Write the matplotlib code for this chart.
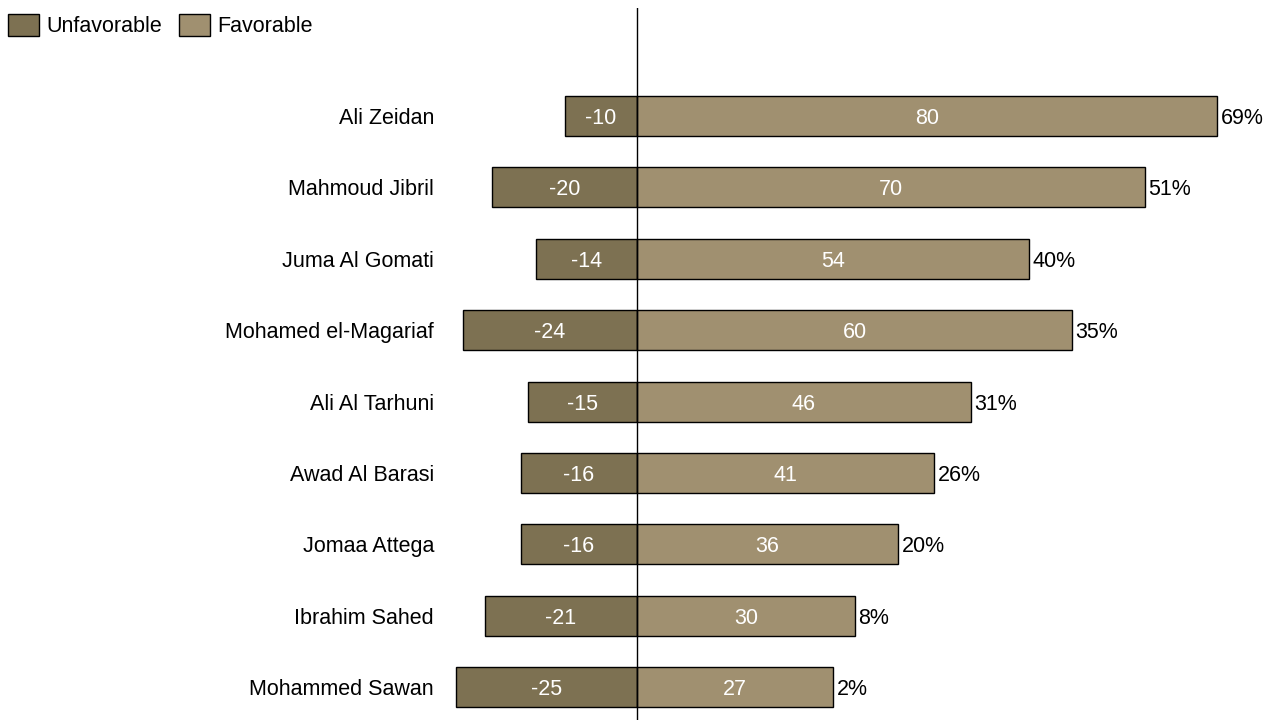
import numpy as np
import matplotlib.pyplot as plt
from matplotlib.patches import Patch

plt.rcParams['font.family'] = ['Liberation Sans', 'DejaVu Sans']

names = ['Ali Zeidan', 'Mahmoud Jibril', 'Juma Al Gomati', 'Mohamed el-Magariaf',
         'Ali Al Tarhuni', 'Awad Al Barasi', 'Jomaa Attega', 'Ibrahim Sahed',
         'Mohammed Sawan']
unfav = [-10, -20, -14, -24, -15, -16, -16, -21, -25]
fav = [80, 70, 54, 60, 46, 41, 36, 30, 27]
net = ['69%', '51%', '40%', '35%', '31%', '26%', '20%', '8%', '2%']

c_unfav = '#7d7152'
c_fav = '#a09070'
fs = 15.5

W, H = 1278, 720
fig = plt.figure(figsize=(W / 100, H / 100), dpi=100)
ax = fig.add_axes([441 / W, 0, (W - 441) / W, 712 / H])

y = np.arange(len(names))
bh = 0.56
ax.barh(y, unfav, height=bh, color=c_unfav, edgecolor='black', linewidth=1, zorder=2)
ax.barh(y, fav, height=bh, color=c_fav, edgecolor='black', linewidth=1, zorder=2)
ax.axvline(0, color='black', linewidth=1, zorder=3)

for i in range(len(names)):
    ax.text(unfav[i] / 2, y[i], str(unfav[i]), ha='center', va='center_baseline',
            color='white', fontsize=fs, zorder=4)
    ax.text(fav[i] / 2, y[i], str(fav[i]), ha='center', va='center_baseline',
            color='white', fontsize=fs, zorder=4)
    ax.text(fav[i] + 0.5, y[i], net[i], ha='left', va='center_baseline',
            color='black', fontsize=fs)

px = 7.25
ax.set_xlim((441 - 637) / px, (W - 637) / px)
ax.set_ylim((720 - 116) / 71.4, (8 - 116) / 71.4)
ax.set_yticks(y)
ax.set_yticklabels(names, fontsize=fs)
ax.tick_params(axis='y', length=0, pad=5)
ax.set_xticks([])
for s in ax.spines.values():
    s.set_visible(False)

handles = [Patch(facecolor=c_unfav, edgecolor='black', label='Unfavorable'),
           Patch(facecolor=c_fav, edgecolor='black', label='Favorable')]
fig.legend(handles=handles, loc='upper left', bbox_to_anchor=(8 / W, 1 - 14 / H),
           ncol=2, frameon=False, fontsize=fs, handlelength=1.43,
           handleheight=1.2, handletextpad=0.35, columnspacing=0.8,
           borderaxespad=0, borderpad=0)

fig.savefig('out.png', dpi=100)
